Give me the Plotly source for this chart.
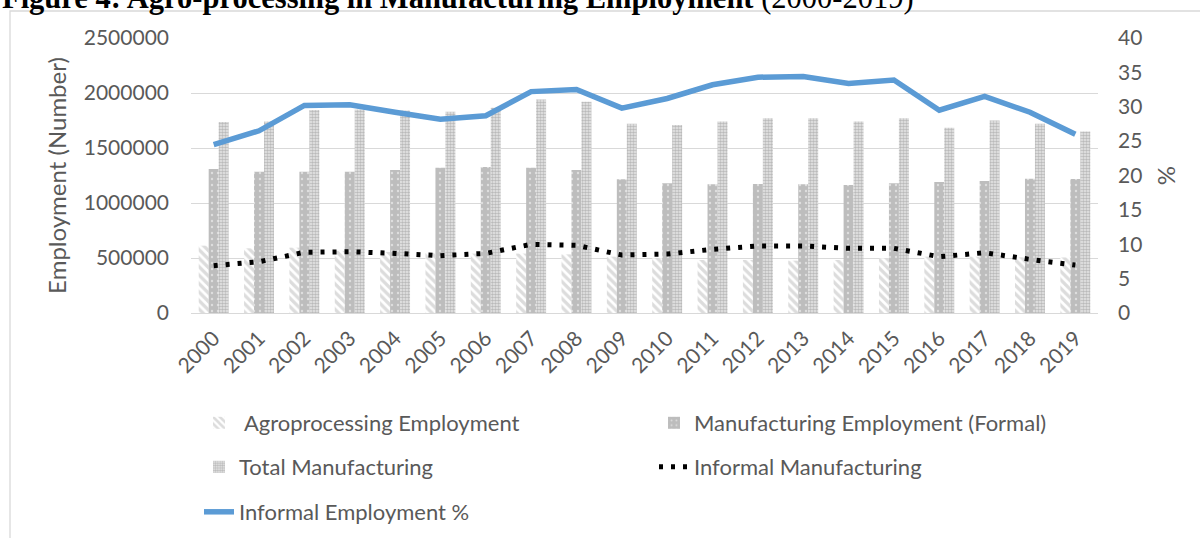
import plotly.graph_objects as go

years = [str(y) for y in range(2000, 2020)]
agro = [612000, 588000, 594000, 565000, 555000, 548000, 540000, 540000, 533000, 512000,
        497000, 482000, 482000, 476000, 482000, 497000, 512000, 512000, 506000, 505000]
formal = [1309000, 1285000, 1285000, 1285000, 1300000, 1320000, 1327000, 1320000, 1300000, 1215000,
          1180000, 1170000, 1173000, 1170000, 1164000, 1180000, 1190000, 1200000, 1220000, 1218000]
total = [1736000, 1740000, 1845000, 1850000, 1840000, 1830000, 1866000, 1940000, 1920000, 1720000,
         1710000, 1740000, 1770000, 1770000, 1740000, 1770000, 1685000, 1750000, 1720000, 1650000]
informal = [430000, 466000, 552000, 557000, 542000, 521000, 542000, 624000, 615000, 527000,
            536000, 579000, 609000, 609000, 588000, 588000, 512000, 548000, 488000, 436000]
pct = [24.5, 26.5, 30.2, 30.3, 29.2, 28.2, 28.7, 32.2, 32.5, 29.8,
       31.2, 33.2, 34.3, 34.4, 33.4, 33.9, 29.5, 31.5, 29.2, 26.0]

W, H = 1200, 538
L, R, T, B = 191, 102, 38, 225
PW, PH = W - L - R, H - T - B


def px(x):
    return (x - L) / PW


def py(y):
    return (T + PH - y) / PH


FONT = "Lato"
GREY_TXT = "#595959"

fig = go.Figure()
fig.add_trace(go.Bar(
    x=years, y=agro, name=" Agroprocessing Employment", legend="legend",
    marker=dict(color="white", line=dict(width=0),
                pattern=dict(shape="\\", fgcolor="#bababa", bgcolor="white", size=6, solidity=0.55)),
))
fig.add_trace(go.Bar(
    x=years, y=formal, name="Manufacturing Employment (Formal)", legend="legend",
    marker=dict(color="#bdbdbd", line=dict(width=0),
                pattern=dict(shape=".", fgcolor="white", bgcolor="#bdbdbd", size=6, solidity=0.12)),
))
fig.add_trace(go.Bar(
    x=years, y=total, name="Total Manufacturing", legend="legend2",
    marker=dict(color="#c0c0c0", line=dict(width=0),
                pattern=dict(shape=".", fgcolor="#8c8c8c", bgcolor="#e8e8e8", size=3, solidity=0.55)),
))
fig.add_trace(go.Scatter(
    x=years, y=informal, name="Informal Manufacturing", legend="legend2", mode="lines",
    line=dict(color="black", width=5, dash="4px,8px"),
))
fig.add_trace(go.Scatter(
    x=years, y=pct, name="Informal Employment %", legend="legend3", mode="lines", yaxis="y2",
    line=dict(color="#5b9bd5", width=5.5),
))

legfont = dict(family=FONT, size=22, color=GREY_TXT)
common_leg = dict(orientation="h", xanchor="left", yanchor="middle", font=legfont,
                  entrywidth=410, entrywidthmode="pixels", bgcolor="rgba(0,0,0,0)",
                  traceorder="normal")

fig.update_layout(
    width=W, height=H,
    margin=dict(l=L, r=R, t=T, b=B, autoexpand=False),
    paper_bgcolor="white", plot_bgcolor="white",
    barmode="group", bargap=0.34, bargroupgap=0,
    font=dict(family=FONT, size=21, color=GREY_TXT),
    xaxis=dict(type="category", tickangle=-45, showgrid=False, showline=False, ticks="",
               ticklabelstandoff=8,
               tickfont=dict(family=FONT, size=21, color=GREY_TXT)),
    yaxis=dict(range=[0, 2500000], dtick=500000, tickformat="d", showgrid=True,
               gridcolor="#d9d9d9", gridwidth=1.3, zeroline=True, zerolinecolor="#d9d9d9",
               zerolinewidth=1.3, ticks="", ticklabelstandoff=21,
               tickfont=dict(family=FONT, size=21, color=GREY_TXT),
               title=dict(text="Employment (Number)", standoff=10,
                          font=dict(family=FONT, size=24, color=GREY_TXT))),
    yaxis2=dict(range=[0, 40], dtick=5, overlaying="y", side="right", showgrid=False,
                zeroline=False, ticks="", ticklabelstandoff=19,
                tickfont=dict(family=FONT, size=21, color=GREY_TXT),
                title=dict(text="%", standoff=16, font=dict(family=FONT, size=24, color=GREY_TXT))),
    legend=dict(x=px(199), y=py(423), **common_leg),
    legend2=dict(x=px(199), y=py(467), **common_leg),
    legend3=dict(x=px(199), y=py(512), **common_leg),
    shapes=[dict(type="rect", xref="paper", yref="paper",
                 x0=px(10), x1=px(1260), y0=py(600), y1=py(11),
                 line=dict(color="#d9d9d9", width=1.3), fillcolor="rgba(0,0,0,0)", layer="below")],
    annotations=[dict(text="<b>Figure 4: Agro-processing in Manufacturing Employment</b> (2000-2019)",
                      xref="paper", yref="paper", x=px(0), y=py(17), xanchor="left", yanchor="bottom",
                      showarrow=False, font=dict(family="Liberation Serif", size=30.5, color="black"))],
)

fig.write_html("out.html")
